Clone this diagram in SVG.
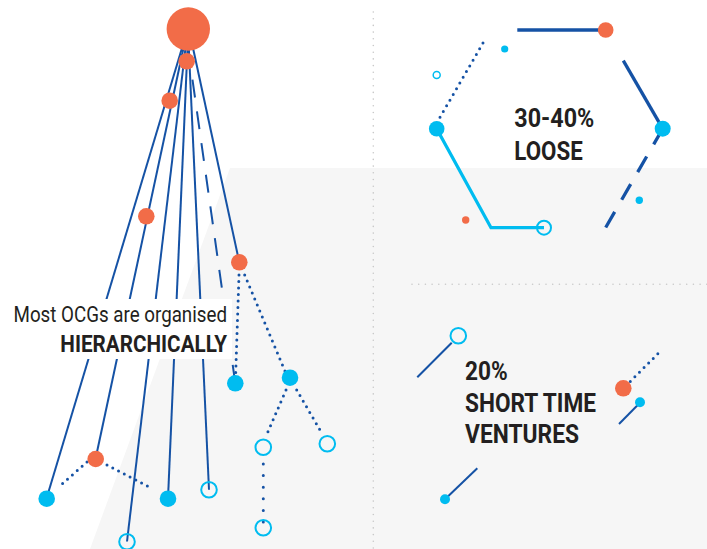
<svg xmlns="http://www.w3.org/2000/svg" width="707" height="549" viewBox="0 0 707 549">
<style>
.or{fill:#f26c48}
.bf{fill:#00bcf0}
.bh{fill:none;stroke:#00bcf0;stroke-width:2}
.ln{fill:none;stroke:#1552a5;stroke-width:2}
.dash{fill:none;stroke:#1552a5;stroke-width:2;stroke-dasharray:18 14}
.dot{fill:none;stroke:#1552a5;stroke-width:3;stroke-linecap:round;stroke-dasharray:0 6.5}
.grid{fill:none;stroke:#c9c9c9;stroke-width:1.6;stroke-linecap:round;stroke-dasharray:0 6.7}
.t{font-family:Roboto,"Liberation Sans",sans-serif;fill:#231f20}
.b{font-weight:bold}
</style>
<rect width="707" height="549" fill="#ffffff"/>
<polygon points="230,168 707,168 707,549 90,549" fill="#f6f6f6"/>
<g id="separators">
<line class="grid" x1="373.3" y1="12" x2="373.3" y2="549"/>
<line class="grid" x1="412" y1="284.3" x2="707" y2="284.3"/>
</g>
<g id="connectors">
<line class="ln" x1="182" y1="48" x2="46.5" y2="498.5"/>
<line class="ln" x1="183.5" y1="48" x2="95.5" y2="459"/>
<line class="ln" x1="185.5" y1="48" x2="127" y2="541.5"/>
<line class="ln" x1="187.5" y1="48" x2="168" y2="498.5"/>
<line class="ln" x1="188.8" y1="48" x2="209" y2="489.7"/>
<line class="dash" x1="188" y1="48" x2="235.3" y2="383.3"/>
<line class="ln" x1="193" y1="48" x2="239.3" y2="262.3"/>
<line class="dot" x1="87" y1="462" x2="62" y2="484"/>
<line class="dot" x1="107" y1="465" x2="153" y2="489"/>
<line class="dot" x1="239" y1="275" x2="235.7" y2="373"/>
<line class="dot" x1="244.7" y1="275" x2="285" y2="371"/>
<line class="dot" x1="286" y1="390" x2="265.7" y2="437"/>
<line class="dot" x1="296.7" y1="390" x2="322.3" y2="434"/>
<line class="dot" x1="263.3" y1="464" x2="263.3" y2="522" style="stroke-dasharray:0 11.6"/>
<line fill="none" stroke="#1552a5" stroke-width="3.3" x1="517.3" y1="30" x2="605.7" y2="30"/>
<line fill="none" stroke="#1552a5" stroke-width="3.3" x1="623.3" y1="60.7" x2="662.7" y2="128.7"/>
<line fill="none" stroke="#1552a5" stroke-width="3.3" stroke-dasharray="18 14" x1="605.7" y1="227.5" x2="662.7" y2="128.7"/>
<line class="dot" x1="440" y1="117.3" x2="485.7" y2="38.3" style="stroke-dasharray:0 6.6"/>
<polyline fill="none" stroke="#00bcf0" stroke-width="3.3" points="436.7,128.7 491,227.7 544,227.7"/>
<line class="ln" x1="451.7" y1="342.7" x2="417.3" y2="377.3"/>
<line class="dot" x1="625.7" y1="386" x2="658.3" y2="353.3"/>
<line class="ln" x1="641.7" y1="401" x2="619" y2="424"/>
<line class="ln" x1="445" y1="499.3" x2="477.3" y2="468.3"/>
</g>
<g id="root"><circle class="or" cx="188.3" cy="29" r="21.7"/></g>
<g id="n-o1"><circle class="or" cx="186.7" cy="61.3" r="8.3"/></g>
<g id="n-o2"><circle class="or" cx="169.7" cy="100.7" r="8.3"/></g>
<g id="n-o3"><circle class="or" cx="146.3" cy="216.3" r="8.3"/></g>
<g id="n-o4"><circle class="or" cx="239.3" cy="262.3" r="8.3"/></g>
<g id="n-o5"><circle class="or" cx="95.7" cy="459" r="8.3"/></g>
<g id="n-b1"><circle class="bf" cx="46.7" cy="498.7" r="8.3"/></g>
<g id="n-b2"><circle class="bf" cx="168" cy="498.7" r="8.3"/></g>
<g id="n-h1"><circle class="bh" cx="209" cy="489.7" r="7.8"/></g>
<g id="n-h2"><circle class="bh" cx="127" cy="541.7" r="7.8"/></g>
<g id="n-b3"><circle class="bf" cx="235.3" cy="383.3" r="8.3"/></g>
<g id="n-b4"><circle class="bf" cx="290" cy="377.7" r="8.3"/></g>
<g id="n-h3"><circle class="bh" cx="263.3" cy="447.3" r="7.8"/></g>
<g id="n-h4"><circle class="bh" cx="327.3" cy="443.7" r="7.8"/></g>
<g id="n-h5"><circle class="bh" cx="263.3" cy="527.7" r="7.8"/></g>
<g id="label-hier">
<rect x="8" y="299" width="224" height="60" fill="#ffffff"/>
<text class="t" x="227" y="321.7" font-size="22" text-anchor="end" textLength="213.5" lengthAdjust="spacingAndGlyphs">Most OCGs are organised</text>
<text class="t b" x="227" y="351.7" font-size="23" text-anchor="end" textLength="166.7" lengthAdjust="spacingAndGlyphs">HIERARCHICALLY</text>
</g>
<g id="loose">
<circle class="or" cx="605.7" cy="30" r="7.8"/>
<circle class="bf" cx="662.7" cy="128.7" r="8"/>
<circle class="bf" cx="436.7" cy="128.7" r="7.8"/>
<circle class="bh" cx="544" cy="227.7" r="7"/>
<circle fill="none" stroke="#00bcf0" stroke-width="1.5" cx="436.7" cy="75" r="3.5"/>
<circle class="bf" cx="504.7" cy="49" r="3.6"/>
<circle class="or" cx="465.7" cy="220" r="3.7"/>
<circle class="bf" cx="639.3" cy="200.3" r="3.7"/>
<text class="t b" x="514.3" y="126.7" font-size="26" textLength="80" lengthAdjust="spacingAndGlyphs">30-40%</text>
<text class="t b" x="514.3" y="160" font-size="26" textLength="68.4" lengthAdjust="spacingAndGlyphs">LOOSE</text>
</g>
<g id="short">
<circle class="bh" cx="458.3" cy="335.7" r="7.8"/>
<circle class="or" cx="623.3" cy="388.3" r="8.3"/>
<circle class="bf" cx="640" cy="402.3" r="5"/>
<circle class="bf" cx="445" cy="499.3" r="5"/>
<text class="t b" x="465" y="380" font-size="26" textLength="42.7" lengthAdjust="spacingAndGlyphs">20%</text>
<text class="t b" x="465" y="411.7" font-size="26" textLength="131" lengthAdjust="spacingAndGlyphs">SHORT TIME</text>
<text class="t b" x="465" y="443.3" font-size="26" textLength="114" lengthAdjust="spacingAndGlyphs">VENTURES</text>
</g>
</svg>
